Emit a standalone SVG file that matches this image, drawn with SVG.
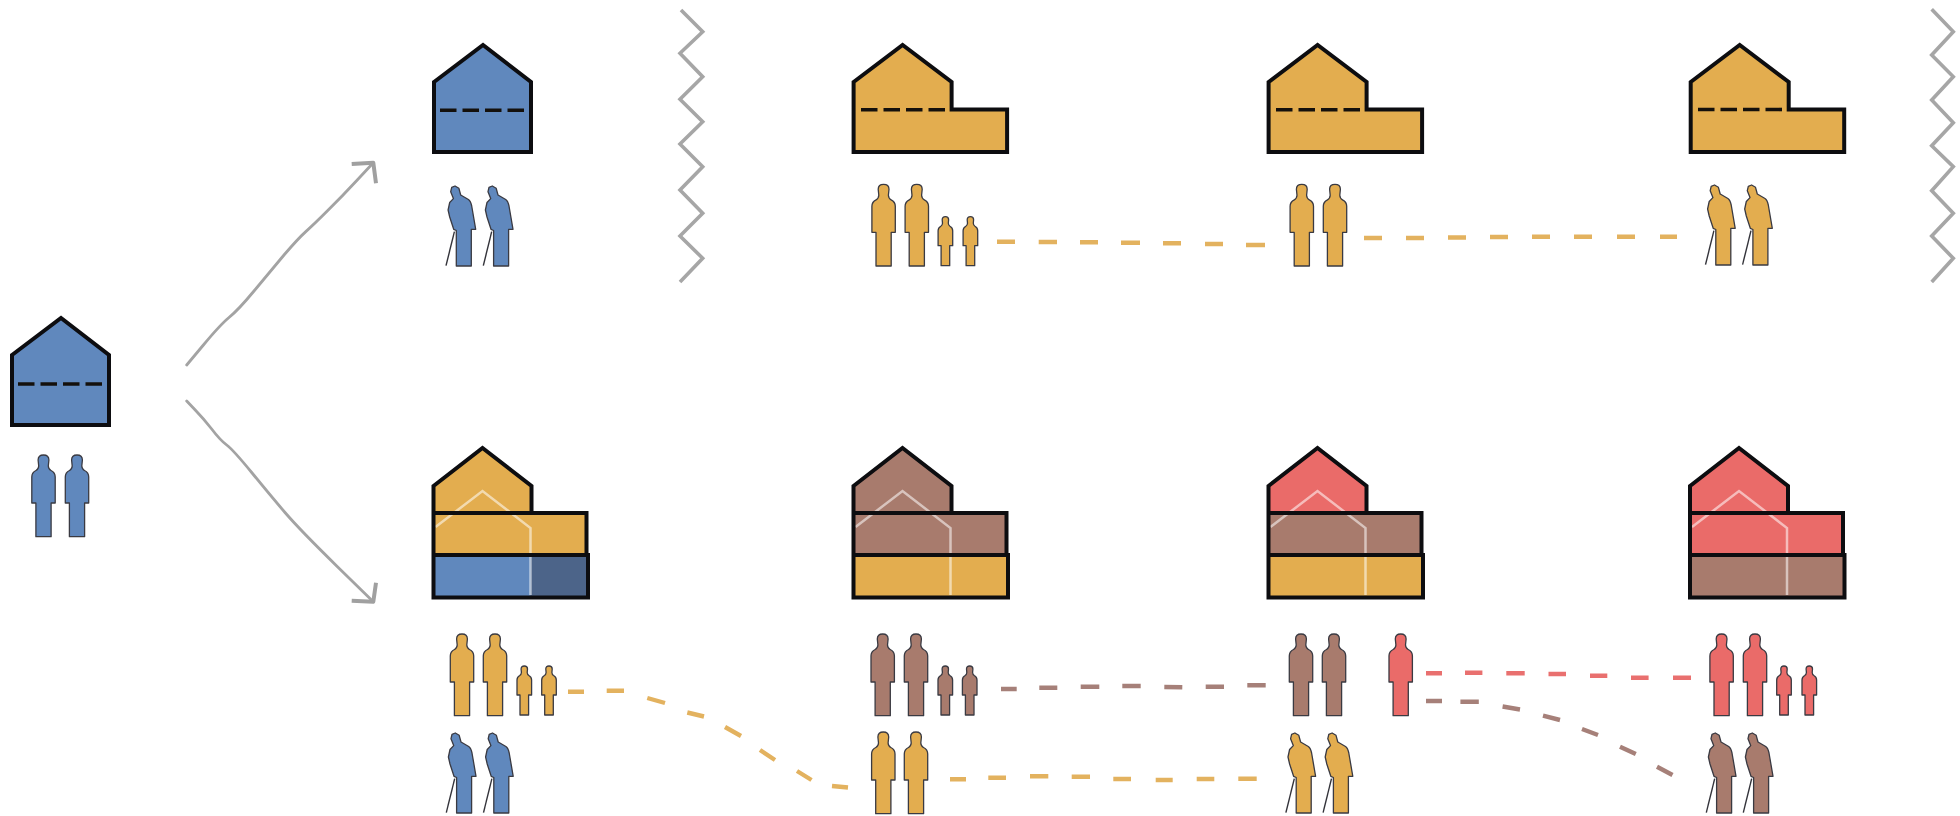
<svg xmlns="http://www.w3.org/2000/svg" width="1960" height="816" viewBox="0 0 1960 816">
<style>
.blue{fill:#6088bd}.navy{fill:#4c6489}.or{fill:#e3ad4f}.br{fill:#a87b6d}.red{fill:#ea6b69}
.ppl{stroke:#3a3a42;stroke-width:1.3;stroke-linejoin:round}
.cane{fill:none;stroke:#33333a;stroke-width:1.4}
.line{fill:none;stroke:#0d0d10;stroke-width:4;stroke-linejoin:miter}
.floor{fill:none;stroke:#14100c;stroke-width:3.6;stroke-dasharray:16.5 6}
.ghost{fill:none;stroke:#fff;stroke-opacity:.55;stroke-width:2.5}
.grey{fill:none;stroke:#a3a3a3;stroke-width:2.8;stroke-linecap:round;stroke-linejoin:round}
.head{fill:none;stroke:#a0a0a0;stroke-width:4;stroke-linejoin:round}
.zig{fill:none;stroke:#a6a6a6;stroke-width:3.6}
.dO{fill:none;stroke:#e3b25f;stroke-width:4.4}.dB{fill:none;stroke:#a68079;stroke-width:4.4}.dR{fill:none;stroke:#e9706f;stroke-width:4.4}
</style>
<defs>
<path id="adult" class="ppl" d="M-7.6,81.7V48H-11.7V22Q-11.7,17.5-7.5,15.5Q-5,14.3-4.8,11L-5.4,5Q-5.4,0,0,0Q5.4,0,5.4,5L4.8,11Q5,14.3,7.5,15.5Q11.7,17.5,11.7,22V48H7.6V81.7Z"/>
<path id="child" class="ppl" d="M-4.3,49V29H-7.3V14Q-7.3,11-4.6,9.5Q-3,8.5-2.9,6.5L-3.2,3Q-3.2,0,0,0Q3.2,0,3.2,3L2.9,6.5Q3,8.5,4.6,9.5Q7.3,11,7.3,14V29H4.3V49Z"/>
<g id="elder"><path class="ppl" d="M-7.4,80V44.5L-10,43.3L-14,31L-15.6,24L-14,16.5L-10.3,12.6L-13,5.7L-12,1.3L-8.7,0L-4.8,2.3L-3,9L4.7,13.5Q7,15,8,20L12,43.3H7.6V80Z"/><path class="cane" d="M-9.3,45.7L-17.7,79.7"/></g>
<path id="gable" d="M0,37L49,0L97,37V107H0Z"/>
<path id="gableExt" d="M0,37L49,0L98,37V64.5H153.5V107H0Z"/>
<path id="roof" d="M0,38L49,0L98,38V65H0Z"/>
<path id="midBand" d="M0,65H153V107H0Z"/>
<path id="lowBand" d="M0,107H154.5V149.5H0Z"/>
<path id="ghostLine" d="M2,79L49,43L97,80V147"/>
<path id="bldOutline" d="M0,38L49,0L98,38V65H153V107H154.5V149.5H0ZM0,65H98M0,107H153"/>
</defs>

<g id="separators">
<path class="zig" d="M681,10L702.7,31.7L680,53.3L702.7,76.7L680,99.3L702.7,121.7L680,144L702.7,166.7L680,190L702.7,213.3L680,236L702.7,258.3L680,282"/>
<path class="zig" d="M1931.7,9.3L1953.3,31.7L1931.7,55L1953.3,76.7L1931.7,100L1953.3,122.7L1931.7,145.7L1953.3,166.7L1931.7,190.7L1953.3,213.3L1931.7,236L1953.3,258.3L1931.7,282"/>
</g>

<g id="connectors">
<path class="grey" d="M186.7,365L203.4,345Q220,325,229,317.5Q238.3,310,254,291Q270,271.7,284,255Q298.3,238.3,305.8,231.6Q313.3,225,327.5,210.8Q341.7,196.7,357.5,179.7L373.3,162.7"/>
<path class="head" d="M351.7,164L373.3,162.7L376,183.3"/>
<path class="grey" d="M186.7,401L195,409.7Q203.3,418.3,211.7,429Q220,440,226.7,445Q233.3,450,251.7,472.5Q270,495,285,512.5Q300,530,336.7,565.9L373.3,601.7"/>
<path class="head" d="M351.7,600.7L373.3,601.7L376,582.7"/>
<path class="dO" d="M997,241.7H1015M1038.7,242H1057M1080,242.3H1098M1121,242.7H1140M1163,243.3H1181M1205,244H1223M1246,245H1265"/>
<path class="dO" d="M1364,238H1382M1406,238H1424M1448,237.5H1466M1490,237H1508M1532,236.7H1550M1574,236.7H1592M1617,236.7H1635M1660,236.7H1677"/>
<path class="dO" d="M568,691.7H584M606.7,690.7H624M647.3,698L665,703M687.3,712.5L704,716.5M725,727L741,736M760,750L775,760M797,771L811.5,780M832,786L848,787.5"/>
<path class="dB" d="M1001,689H1016.7M1039.3,687.7H1057.3M1080.7,686.7H1099.3M1122.3,686H1140.7M1164.3,687L1182.3,687.3M1205.7,686.7H1224M1247.3,685.3H1265.7"/>
<path class="dO" d="M950,779.3H966M988.3,777.7H1006M1030,776.3H1048.3M1071.7,776.7H1090M1113.3,779H1131M1155.7,780H1172.7M1196.7,779H1214.3M1238.3,778.7H1256.7"/>
<path class="dR" d="M1426,673.3H1442M1465,672.7H1482.4M1506.3,673.3H1524.7M1548.5,674H1566M1590,675.7H1607.3M1631,677.7H1648.6M1673,677.7H1691"/>
<path class="dB" d="M1426,701H1442M1460.4,701.7H1478.8M1502.6,706.5L1520,709.5M1543,715.7L1560,720M1582,729L1598,735M1620,746.7L1635.8,754M1657,766.7L1672.5,775"/>
</g>

<g id="house-start">
<use href="#gable" x="12" y="318" class="blue"/><use href="#gable" x="12" y="318" class="line"/>
<path class="floor" d="M18,384H102"/>
<use href="#adult" x="43.5" y="455" class="blue"/><use href="#adult" x="77" y="455" class="blue"/>
</g>

<g id="house-top-1">
<use href="#gable" x="434" y="45" class="blue"/><use href="#gable" x="434" y="45" class="line"/>
<path class="floor" d="M440,110.3H524"/>
<use href="#elder" x="463.7" y="186" class="blue"/><use href="#elder" x="501" y="186" class="blue"/>
</g>

<g id="house-top-2">
<use href="#gableExt" x="853.6" y="45" class="or"/><use href="#gableExt" x="853.6" y="45" class="line"/>
<path class="floor" d="M861,109.7H945"/>
<use href="#adult" x="883.6" y="184.3" class="or"/><use href="#adult" x="916.8" y="184.3" class="or"/>
<use href="#child" x="945.4" y="216.7" class="or"/><use href="#child" x="970.4" y="216.7" class="or"/>
</g>

<g id="house-top-3">
<use href="#gableExt" x="1268.6" y="45" class="or"/><use href="#gableExt" x="1268.6" y="45" class="line"/>
<path class="floor" d="M1276,109.7H1361"/>
<use href="#adult" x="1301.8" y="184.3" class="or"/><use href="#adult" x="1335" y="184.3" class="or"/>
</g>

<g id="house-top-4">
<use href="#gableExt" x="1690.7" y="45" class="or"/><use href="#gableExt" x="1690.7" y="45" class="line"/>
<path class="floor" d="M1698,109.5H1782"/>
<use href="#elder" x="1723.2" y="185" class="or"/><use href="#elder" x="1760.3" y="185" class="or"/>
</g>

<g id="house-bottom-1">
<g transform="translate(433.5,448)">
<use href="#roof" class="or"/><use href="#midBand" class="or"/><use href="#lowBand" class="blue"/>
<rect x="97" y="107" width="57.5" height="42.5" class="navy"/>
<use href="#ghostLine" class="ghost"/><use href="#bldOutline" class="line"/>
</g>
<use href="#adult" x="462" y="634" class="or"/><use href="#adult" x="495" y="634" class="or"/>
<use href="#child" x="524.3" y="666" class="or"/><use href="#child" x="549" y="666" class="or"/>
<use href="#elder" x="464" y="733" class="blue"/><use href="#elder" x="501.2" y="733" class="blue"/>
</g>

<g id="house-bottom-2">
<g transform="translate(853.5,448)">
<use href="#roof" class="br"/><use href="#midBand" class="br"/><use href="#lowBand" class="or"/>
<use href="#ghostLine" class="ghost"/><use href="#bldOutline" class="line"/>
</g>
<use href="#adult" x="882.7" y="634" class="br"/><use href="#adult" x="916" y="634" class="br"/>
<use href="#child" x="945.3" y="666" class="br"/><use href="#child" x="969.7" y="666" class="br"/>
<use href="#adult" x="883.3" y="732" class="or"/><use href="#adult" x="916" y="732" class="or"/>
</g>

<g id="house-bottom-3">
<g transform="translate(1268.5,448)">
<use href="#roof" class="red"/><use href="#midBand" class="br"/><use href="#lowBand" class="or"/>
<use href="#ghostLine" class="ghost"/><use href="#bldOutline" class="line"/>
</g>
<use href="#adult" x="1301" y="634" class="br"/><use href="#adult" x="1334" y="634" class="br"/>
<use href="#adult" x="1400.7" y="634" class="red"/>
<use href="#elder" x="1303.6" y="733" class="or"/><use href="#elder" x="1340.8" y="733" class="or"/>
</g>

<g id="house-bottom-4">
<g transform="translate(1690,448)">
<use href="#roof" class="red"/><use href="#midBand" class="red"/><use href="#lowBand" class="br"/>
<use href="#ghostLine" class="ghost"/><use href="#bldOutline" class="line"/>
</g>
<use href="#adult" x="1721.6" y="634" class="red"/><use href="#adult" x="1755" y="634" class="red"/>
<use href="#child" x="1784" y="666" class="red"/><use href="#child" x="1809.3" y="666" class="red"/>
<use href="#elder" x="1724" y="733" class="br"/><use href="#elder" x="1761" y="733" class="br"/>
</g>
</svg>
